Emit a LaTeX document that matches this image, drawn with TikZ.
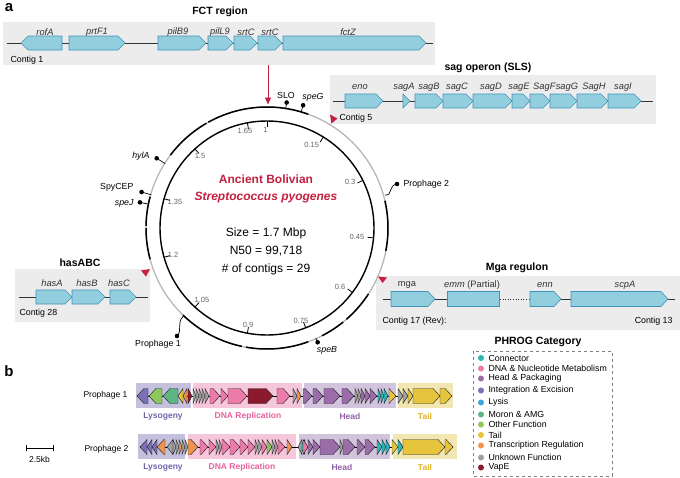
\documentclass[tikz,border=0pt]{standalone}
\usepackage{fontspec}
\setmainfont{Liberation Sans}
\usetikzlibrary{arrows.meta,calc}
\definecolor{boxGray}{HTML}{ECECEC}
\definecolor{geneFill}{HTML}{93CEDF}
\definecolor{geneEdge}{HTML}{3F93B8}
\definecolor{labGray}{HTML}{333333}
\definecolor{redC}{HTML}{C4203F}
\definecolor{ringGray}{HTML}{B8B8B8}
\definecolor{tickGray}{HTML}{666666}
\definecolor{cConn}{HTML}{2FB5B5}
\definecolor{cDNA}{HTML}{EC7BAA}
\definecolor{cHead}{HTML}{9A6CA8}
\definecolor{cInt}{HTML}{7A70B5}
\definecolor{cLysis}{HTML}{3DA8DC}
\definecolor{cMoron}{HTML}{5DB586}
\definecolor{cOther}{HTML}{8DC85C}
\definecolor{cTail}{HTML}{E6C43C}
\definecolor{cTrans}{HTML}{EC9450}
\definecolor{cUnk}{HTML}{A0A0A0}
\definecolor{cVapE}{HTML}{8C1A2E}
\definecolor{bgLys}{HTML}{C4C0DE}
\definecolor{bgDNA}{HTML}{F6C6DA}
\definecolor{bgHead}{HTML}{D3C4DE}
\definecolor{bgTail}{HTML}{F2E7B2}
\definecolor{tLys}{HTML}{6E66AC}
\definecolor{tDNA}{HTML}{E8609E}
\definecolor{tHead}{HTML}{8F63A4}
\definecolor{tTail}{HTML}{DDB52C}
\newcommand{\fsz}[1]{\fontsize{#1}{#1}\selectfont}
\newcommand{\genearrow}[6]{%
  \pgfmathsetmacro\gnL{abs(#2-#1)}%
  \pgfmathsetmacro\gnH{min(#5,\gnL)}%
  \pgfmathsetmacro\gnB{#2-sign(#2-#1)*\gnH}%
  \draw[#6] (#1,{#3-#4}) -- (\gnB,{#3-#4}) -- (#2,#3) -- (\gnB,{#3+#4}) -- (#1,{#3+#4}) -- cycle;}
\tikzset{
  bgbox/.style={fill=boxGray,draw=none},
  genesty/.style={fill=geneFill,draw=geneEdge,line width=0.6pt},
  pgene/.style={draw=black!85,line width=0.45pt},
  ttl/.style={font=\fsz{10.5}\bfseries},
  glab/.style={font=\fsz{9.3}\itshape,text=labGray},
  ulab/.style={font=\fsz{9.3},text=labGray},
  clab/.style={font=\fsz{8.8},anchor=west},
  trackline/.style={draw=black!80,line width=0.6pt},
  ticklab/.style={font=\fsz{7.5},text=tickGray,inner sep=0pt},
  lolli/.style={font=\fsz{8.8}},
  lolliit/.style={font=\fsz{8.8}\itshape},
  legdot/.style={circle,inner sep=0pt,minimum size=6pt},
  legtxt/.style={font=\fsz{8.8},anchor=west},
  catlab/.style={font=\fsz{8.5}\bfseries},
}
\begin{document}
\begin{tikzpicture}[x=1pt,y=-1pt]
\useasboundingbox (0,0) rectangle (680,477);
\fill[white] (0,0) rectangle (680,477);
% panel labels
\node[font=\fsz{15}\bfseries] (pa) at (9,8) {a};
\node[font=\fsz{15}\bfseries] (pb) at (9,371) {b};

% ---------------- FCT region ----------------
\fill[bgbox] (3,22) rectangle (435,65);
\node[ttl] (fctT) at (220,12) {FCT region};
\draw[trackline] (7,43) -- (433,43);
\genearrow{62}{21}{43}{7}{7}{genesty}
\genearrow{69}{125}{43}{7}{7}{genesty}
\genearrow{158}{206}{43}{7}{7}{genesty}
\genearrow{208}{233}{43}{7}{7}{genesty}
\genearrow{234}{257}{43}{7}{7}{genesty}
\genearrow{258}{282}{43}{7}{7}{genesty}
\genearrow{283}{426}{43}{7}{7}{genesty}
\node[glab] (l1) at (45,32) {rofA};
\node[glab] (l2) at (97,32) {prtF1};
\node[glab] (l3) at (178,32) {pilB9};
\node[glab] (l4) at (220,32) {pilL9};
\node[glab] (l5) at (246,32) {srtC};
\node[glab] (l6) at (270,32) {srtC};
\node[glab] (l7) at (348,32) {fctZ};
\node[clab] (c1) at (7,60) {Contig 1};
\coordinate (fctB) at (268,65);

% ---------------- sag operon ----------------
\fill[bgbox] (330,75) rectangle (656,124);
\node[ttl] (sagT) at (488,68) {sag operon (SLS)};
\draw[trackline] (333,101) -- (653,101);
\genearrow{345}{383}{101}{7}{7}{genesty}
\genearrow{403}{410}{101}{7}{7}{genesty}
\genearrow{415}{443}{101}{7}{7}{genesty}
\genearrow{443}{473}{101}{7}{7}{genesty}
\genearrow{473}{512}{101}{7}{7}{genesty}
\genearrow{512}{530}{101}{7}{7}{genesty}
\genearrow{530}{550}{101}{7}{7}{genesty}
\genearrow{550}{577}{101}{7}{7}{genesty}
\genearrow{577}{608}{101}{7}{7}{genesty}
\genearrow{608}{641}{101}{7}{7}{genesty}
\node[glab] (s1) at (360,87) {eno};
\node[glab] (s2) at (404,87) {sagA};
\node[glab] (s3) at (429,87) {sagB};
\node[glab] (s4) at (457,87) {sagC};
\node[glab] (s5) at (491,87) {sagD};
\node[glab] (s6) at (519,87) {sagE};
\node[glab,inner sep=0pt,anchor=west] (s7) at (533,87) {SagF};
\node[glab,inner sep=0pt,anchor=west] (s8) at (s7.east) {sagG};
\node[glab] (s9) at (594,87) {SagH};
\node[glab] (s10) at (623,87) {sagI};
\node[clab] (c5) at (336,118) {Contig 5};

% ---------------- hasABC ----------------
\fill[bgbox] (15,269) rectangle (150,322);
\node[ttl] (hasT) at (80,263) {hasABC};
\draw[trackline] (19,297) -- (148,297);
\genearrow{36}{72}{297}{7}{7}{genesty}
\genearrow{72}{105}{297}{7}{7}{genesty}
\genearrow{110}{136}{297}{7}{7}{genesty}
\node[glab] (h1) at (52,283) {hasA};
\node[glab] (h2) at (87,283) {hasB};
\node[glab] (h3) at (119,283) {hasC};
\node[clab] (c28) at (16,313) {Contig 28};

% ---------------- Mga regulon ----------------
\fill[bgbox] (376,276) rectangle (680,330);
\node[ttl] (mgaT) at (517,268) {Mga regulon};
\draw[trackline] (383,299) -- (500,299);
\draw[trackline,dotted] (500,299) -- (530,299);
\draw[trackline] (530,299) -- (675,299);
\genearrow{391}{435}{299}{7.5}{7}{genesty}
\draw[genesty] (447,291.5) rectangle (499,306.5);
\genearrow{530}{561}{299}{7.5}{7}{genesty}
\genearrow{571}{668}{299}{7.5}{7}{genesty}
\node[ulab] (m1) at (407,285) {mga};
\node[ulab] (m2) at (472,285) {\textit{emm} (Partial)};
\node[glab] (m3) at (545,285) {enn};
\node[glab] (m4) at (625,285) {scpA};
\node[clab] (c17) at (379,321) {Contig 17 (Rev):};
\node[clab,anchor=east] (c13) at (676,321) {Contig 13};

% ---------------- circular genome ----------------
\coordinate (C) at (267,228);
\draw[ringGray,line width=1.3pt] (C) circle (121);
\foreach \s/\e in {-53/-30, -29/20, 77/101, 123/139, 141/153, 160/190, 192/224, 255/270, 271/285} {
  \draw[black,line width=1.5pt] (C) ++({\s-90}:121) arc[start angle={\s-90}, end angle={\e-90}, radius=121];
}
\draw[black,line width=1.4pt] (C) circle (107);
% ticks
\foreach \p in {0,0.15,0.3,0.45,0.6,0.75,0.9,1.05,1.2,1.35,1.5,1.65} {
  \pgfmathsetmacro\ang{\p/1.7*360-90}
  \draw[black,line width=0.8pt] (C) ++(\ang:101) -- ++(\ang:6);
}
\foreach \lab/\lx/\ly in {1.65/245/131, 1/265.5/130, 0.15/311.7/145, 0.3/350/182, 0.45/357/237, 0.6/340/287, 0.75/301/321, 0.9/248/325, 1.05/202/300, 1.2/173/255, 1.35/175/202, 1.5/200/156} {
  \node[ticklab] at (\lx,\ly) {\lab};
}
% red arrow from FCT
\draw[redC,line width=0.9pt,-{Triangle[length=7pt,width=6pt]}] (fctB) -- (268,104.5);
% red triangles
\fill[redC] (330,114.5) -- (337.5,118.5) -- (331.5,123.5) -- cycle;
\fill[redC] (378,276.5) -- (387,277.5) -- (382.5,283) -- cycle;
\fill[redC] (141,270.5) -- (150,269) -- (146,276.5) -- cycle;
% lollipops
\foreach \nm/\a/\r in {slo/-81.1/127, speg/-73.6/128, speb/66.1/125, hyla/212.3/130.5, spycep/196/130.5, spej/191.4/129.6} {
  \path (C) ++(\a:120.5) coordinate (\nm s) (C) ++(\a:\r) coordinate (\nm d);
  \draw[black,line width=0.7pt] (\nm s) -- (\nm d);
  \fill (\nm d) circle (2.3);
}
\node[lolli] (tslo) at (286,95) {SLO};
\node[lolliit] (tspeg) at (313,97) {speG};
\node[lolliit] (tspeb) at (327,350) {speB};
\node[lolliit,anchor=east] (thyla) at (153,156) {hylA};
\node[lolli,anchor=east] (tspy) at (137,187) {SpyCEP};
\node[lolliit,anchor=east] (tspej) at (137,203) {speJ};
% prophage squiggles
\coordinate (p2s) at (385,195);
\coordinate (p2d) at (397,184);
\draw[black,line width=0.7pt] (p2s) .. controls (393,196) and (388,185) .. (p2d);
\fill (p2d) circle (2.3);
\node[lolli,anchor=west] (tp2) at (400,184) {Prophage 2};
\coordinate (p1s) at (183.5,316);
\coordinate (p1d) at (177,336);
\draw[black,line width=0.7pt] (p1s) .. controls (176,323) and (183,330) .. (p1d);
\fill (p1d) circle (2.3);
\node[lolli] (tp1) at (158,344) {Prophage 1};
% center text
\node[font=\fsz{12}\bfseries,text=redC] (anc) at (266,179) {Ancient Bolivian};
\node[font=\fsz{12}\bfseries\itshape,text=redC] (spy) at (266,197.5) {Streptococcus pyogenes};
\node[font=\fsz{12}] (sz) at (266,233.5) {Size = 1.7 Mbp};
\node[font=\fsz{12}] (n50) at (266,251.5) {N50 = 99,718};
\node[font=\fsz{12}] (nc) at (266,269.5) {\# of contigs = 29};

% ---------------- panel b ----------------
\node[font=\fsz{8.5},anchor=east] (pp1) at (131,395) {Prophage 1};
\node[font=\fsz{8.5},anchor=east] (pp2) at (132,449) {Prophage 2};
% scale bar
\draw[black,line width=0.7pt] (26,448) -- (53,448);
\draw[black,line width=0.7pt] (26,445) -- (26,451) (53,445) -- (53,451);
\node[font=\fsz{8.5}] (sb) at (39.5,459) {2.5kb};
% prophage 1 backgrounds
\fill[bgLys] (136,383) rectangle (191,408);
\fill[bgDNA] (193,383) rectangle (302,408);
\fill[bgHead] (304,383) rectangle (396,408);
\fill[bgTail] (398,383) rectangle (453,408);
\node[catlab,text=tLys] at (163,416) {Lysogeny};
\node[catlab,text=tDNA] at (248,416) {DNA Replication};
\node[catlab,text=tHead] at (350,416) {Head};
\node[catlab,text=tTail] at (425,416) {Tail};
\draw[black,line width=0.6pt] (137,396) -- (452,396);
\foreach \ga/\gb/\gc in {148/137/cInt, 162/149/cOther, 178/163/cMoron, 183/178/cTail, 187/183/cTrans, 188/192/cVapE, 193/196/cUnk, 196/199/cUnk, 199/202/cUnk, 202/205/cUnk, 205/209/cUnk, 210/220/cDNA, 221/228/cDNA, 228/247/cDNA, 248/273/cVapE, 277/290/cDNA, 293/297/cUnk, 297/301/cTrans, 303/312/cHead, 313/323/cHead, 324/340/cHead, 342/354/cHead, 355/358/cUnk, 358/361/cUnk, 361/365/cHead, 365/370/cHead, 370/377/cHead, 378/381/cConn, 381/384/cConn, 384/388/cConn, 389/396/cTail, 398/403/cUnk, 403/408/cUnk, 408/413/cTail, 413/440/cTail, 440/452/cTail} {
  \genearrow{\ga}{\gb}{396}{7.5}{7}{pgene,fill=\gc}
}
% prophage 2 backgrounds
\fill[bgLys] (138,434) rectangle (185,459);
\fill[bgDNA] (188,434) rectangle (296,459);
\fill[bgHead] (299,434) rectangle (390,459);
\fill[bgTail] (393,434) rectangle (457,459);
\node[catlab,text=tLys] at (163,467) {Lysogeny};
\node[catlab,text=tDNA] at (242,467) {DNA Replication};
\node[catlab,text=tHead] at (342,467) {Head};
\node[catlab,text=tTail] at (425,467) {Tail};
\draw[black,line width=0.6pt] (140,447) -- (453,447);
\foreach \ga/\gb/\gc in {147/140/cInt, 152/147/cInt, 157/152/cInt, 165/157/cTrans, 173/167/cUnk, 173/176/cUnk, 176/179/cUnk, 179/182/cTrans, 182/185/cUnk, 185/188/cUnk, 188/198/cTrans, 200/208/cDNA, 209/216/cDNA, 216/219/cUnk, 219/222/cUnk, 222/230/cDNA, 230/240/cDNA, 240/248/cDNA, 248/255/cDNA, 255/258/cUnk, 258/262/cUnk, 262/267/cDNA, 267/272/cOther, 272/275/cUnk, 275/278/cUnk, 278/285/cDNA, 287/292/cTrans, 305/300/cConn, 302/298/cUnk, 303/308/cDNA, 308/313/cHead, 313/320/cHead, 320/340/cHead, 340/343/cUnk, 343/355/cHead, 357/365/cHead, 365/375/cHead, 377/382/cConn, 382/386/cConn, 386/390/cConn, 392/398/cTail, 398/403/cConn, 403/445/cTail, 445/453/cTail} {
  \genearrow{\ga}{\gb}{447}{7.5}{7}{pgene,fill=\gc}
}
% legend
\node[font=\fsz{10.5}\bfseries] (legT) at (538,342) {PHROG Category};
\draw[gray,dashed,line width=0.6pt] (473,351) rectangle (612,476);
\foreach \yy/\cc/\tt in {358/cConn/Connector, 368.5/cDNA/DNA \& Nucleotide Metabolism, 378.5/cHead/Head \& Packaging, 390.5/cInt/Integration \& Excision, 402.5/cLysis/Lysis, 414.5/cMoron/Moron \& AMG, 424.5/cOther/Other Function, 435/cTail/Tail, 445.5/cTrans/Transcription Regulation, 457.5/cUnk/Unknown Function, 467.5/cVapE/VapE} {
  \node[legdot,fill=\cc] at (481,\yy) {};
  \node[legtxt] at (485,\yy) {\tt};
}
\end{tikzpicture}
\end{document}
